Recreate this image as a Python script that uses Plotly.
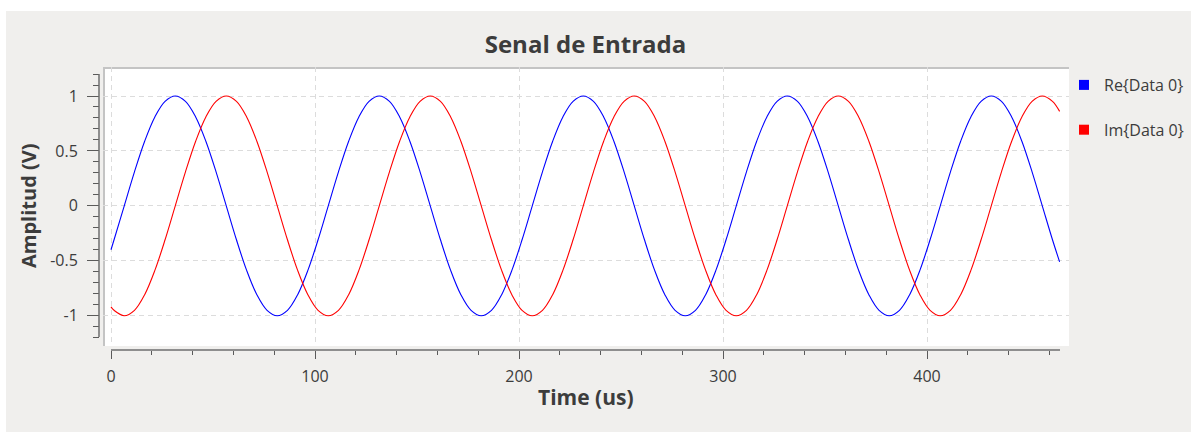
import plotly.graph_objects as go

# ---------------- data ----------------
time_us = [0,
    1.5, 6.5, 11.5, 16.5, 21.5, 26.5, 31.5, 36.5, 41.5, 46.5,
    51.5, 56.5, 61.5, 66.5, 71.5, 76.5, 81.5, 86.5, 91.5, 96.5,
    101.5, 106.5, 111.5, 116.5, 121.5, 126.5, 131.5, 136.5, 141.5, 146.5,
    151.5, 156.5, 161.5, 166.5, 171.5, 176.5, 181.5, 186.5, 191.5, 196.5,
    201.5, 206.5, 211.5, 216.5, 221.5, 226.5, 231.5, 236.5, 241.5, 246.5,
    251.5, 256.5, 261.5, 266.5, 271.5, 276.5, 281.5, 286.5, 291.5, 296.5,
    301.5, 306.5, 311.5, 316.5, 321.5, 326.5, 331.5, 336.5, 341.5, 346.5,
    351.5, 356.5, 361.5, 366.5, 371.5, 376.5, 381.5, 386.5, 391.5, 396.5,
    401.5, 406.5, 411.5, 416.5, 421.5, 426.5, 431.5, 436.5, 441.5, 446.5,
    451.5, 456.5, 461.5,
    465]

re_data0 = [-0.40,
    -0.309, 0, 0.309, 0.588, 0.809, 0.951, 1, 0.951, 0.809, 0.588,
    0.309, 0, -0.309, -0.588, -0.809, -0.951, -1, -0.951, -0.809, -0.588,
    -0.309, 0, 0.309, 0.588, 0.809, 0.951, 1, 0.951, 0.809, 0.588,
    0.309, 0, -0.309, -0.588, -0.809, -0.951, -1, -0.951, -0.809, -0.588,
    -0.309, 0, 0.309, 0.588, 0.809, 0.951, 1, 0.951, 0.809, 0.588,
    0.309, 0, -0.309, -0.588, -0.809, -0.951, -1, -0.951, -0.809, -0.588,
    -0.309, 0, 0.309, 0.588, 0.809, 0.951, 1, 0.951, 0.809, 0.588,
    0.309, 0, -0.309, -0.588, -0.809, -0.951, -1, -0.951, -0.809, -0.588,
    -0.309, 0, 0.309, 0.588, 0.809, 0.951, 1, 0.951, 0.809, 0.588,
    0.309, 0, -0.309,
    -0.51]

im_data0 = [-0.92,
    -0.951, -1, -0.951, -0.809, -0.588, -0.309, 0, 0.309, 0.588, 0.809,
    0.951, 1, 0.951, 0.809, 0.588, 0.309, 0, -0.309, -0.588, -0.809,
    -0.951, -1, -0.951, -0.809, -0.588, -0.309, 0, 0.309, 0.588, 0.809,
    0.951, 1, 0.951, 0.809, 0.588, 0.309, 0, -0.309, -0.588, -0.809,
    -0.951, -1, -0.951, -0.809, -0.588, -0.309, 0, 0.309, 0.588, 0.809,
    0.951, 1, 0.951, 0.809, 0.588, 0.309, 0, -0.309, -0.588, -0.809,
    -0.951, -1, -0.951, -0.809, -0.588, -0.309, 0, 0.309, 0.588, 0.809,
    0.951, 1, 0.951, 0.809, 0.588, 0.309, 0, -0.309, -0.588, -0.809,
    -0.951, -1, -0.951, -0.809, -0.588, -0.309, 0, 0.309, 0.588, 0.809,
    0.951, 1, 0.951,
    0.86]

series_names = ["Re{Data 0}", "Im{Data 0}"]
series_colors = ["#0000ff", "#ff0000"]
x_ticks = [0, 100, 200, 300, 400]
y_ticks = [-1, -0.5, 0, 0.5, 1]
y_tick_text = ["-1", "-0.5", "0", "0.5", "1"]

# ---------------- layout helpers (pixel -> paper) ----------------
W, H = 1191, 432
def px(p):
    return p / W
def py(p):
    return 1 - p / H

FONT = "Open Sans"
TXT = "#3c3c3c"

fig = go.Figure()
for name, ys, col in zip(series_names, [re_data0, im_data0], series_colors):
    fig.add_trace(go.Scatter(x=time_us, y=ys, mode="lines", name=name,
                             line=dict(color=col, width=1.1, shape="spline"),
                             showlegend=False, hoverinfo="skip"))
# legend entries (square symbols)
for i, (name, col) in enumerate(zip(series_names, series_colors)):
    fig.add_trace(go.Scatter(x=[None], y=[None], mode="markers", name=name,
                             legendgroup=f"g{i}",
                             marker=dict(symbol="square", size=10, color=col)))

shapes = [
    # window background
    dict(type="rect", xref="paper", yref="paper", x0=px(6), x1=px(W + 5),
         y0=py(H + 5), y1=py(11), fillcolor="#f0efed", line_width=0, layer="below"),
    # canvas
    dict(type="rect", xref="paper", yref="paper", x0=px(103), x1=px(1069),
         y0=py(346), y1=py(67), fillcolor="#ffffff", line_width=0, layer="below"),
    # canvas frame (left/top sunken border)
    dict(type="line", xref="paper", yref="paper", x0=px(104), x1=px(104),
         y0=py(346), y1=py(67), line=dict(color="#c4c4c4", width=2), layer="below"),
    dict(type="line", xref="paper", yref="paper", x0=px(103), x1=px(1069),
         y0=py(68), y1=py(68), line=dict(color="#c4c4c4", width=2), layer="below"),
    # y spine
    dict(type="line", xref="paper", yref="paper", x0=px(99), x1=px(99),
         y0=py(337), y1=py(74), line=dict(color="#6e6e6e", width=1.5)),
    # x spine
    dict(type="line", xref="paper", yref="paper", x0=px(111), x1=px(1060),
         y0=py(350), y1=py(350), line=dict(color="#6e6e6e", width=1.5)),
]

fig.update_layout(
    width=W, height=H, autosize=False,
    margin=dict(l=0, r=0, t=0, b=0, pad=0, autoexpand=False),
    paper_bgcolor="#ffffff", plot_bgcolor="rgba(0,0,0,0)",
    font=dict(family=FONT, color=TXT, size=16),
    title=dict(text="Senal de Entrada", x=px(585.5), xref="container", xanchor="center",
               y=py(45), yref="container", yanchor="middle",
               font=dict(family=FONT, size=24, color=TXT, weight="bold")),
    xaxis=dict(domain=[px(103), px(1069)], range=[-3.92, 469.6],
               anchor="free", position=py(350), automargin=False,
               tickmode="array", tickvals=x_ticks, ticks="outside", ticklen=8,
               tickcolor="#5a5a5a", tickwidth=1, ticklabelstandoff=4,
               minor=dict(dtick=20, tick0=0, ticks="outside", ticklen=4,
                          tickcolor="#5a5a5a", showgrid=False),
               showgrid=True, gridcolor="#dcdcdc", griddash="5px,4px", gridwidth=1,
               zeroline=False, showline=False,
               tickfont=dict(size=16, color=TXT)),
    yaxis=dict(domain=[py(346), py(67)], range=[-1.276, 1.264],
               anchor="free", position=px(99), automargin=False,
               tickmode="array", tickvals=y_ticks, ticktext=y_tick_text,
               ticks="outside", ticklen=12,
               tickcolor="#5a5a5a", tickwidth=1, ticklabelstandoff=6,
               minor=dict(dtick=0.1, tick0=0, ticks="outside", ticklen=6,
                          tickcolor="#5a5a5a", showgrid=False),
               showgrid=True, gridcolor="#dcdcdc", griddash="5px,4px", gridwidth=1,
               zeroline=False, showline=False,
               tickfont=dict(size=16, color=TXT)),
    legend=dict(x=px(1064), xref="container", y=py(68), yref="container",
                xanchor="left", yanchor="top", bgcolor="rgba(0,0,0,0)",
                font=dict(family=FONT, size=16, color=TXT),
                tracegroupgap=21, itemwidth=30),
    shapes=shapes,
    annotations=[
        dict(text="Amplitud (V)", x=px(28), y=py(206), xref="paper", yref="paper",
             showarrow=False, textangle=-90, xanchor="center", yanchor="middle",
             font=dict(family=FONT, size=20, color=TXT, weight="bold")),
        dict(text="Time (us)", x=px(585.5), y=py(397), xref="paper", yref="paper",
             showarrow=False, xanchor="center", yanchor="middle",
             font=dict(family=FONT, size=21, color=TXT, weight="bold")),
    ],
)

fig.write_html("out.html", config={"displayModeBar": False},
               post_script="document.body.style.margin='0';document.body.style.overflow='hidden';")
